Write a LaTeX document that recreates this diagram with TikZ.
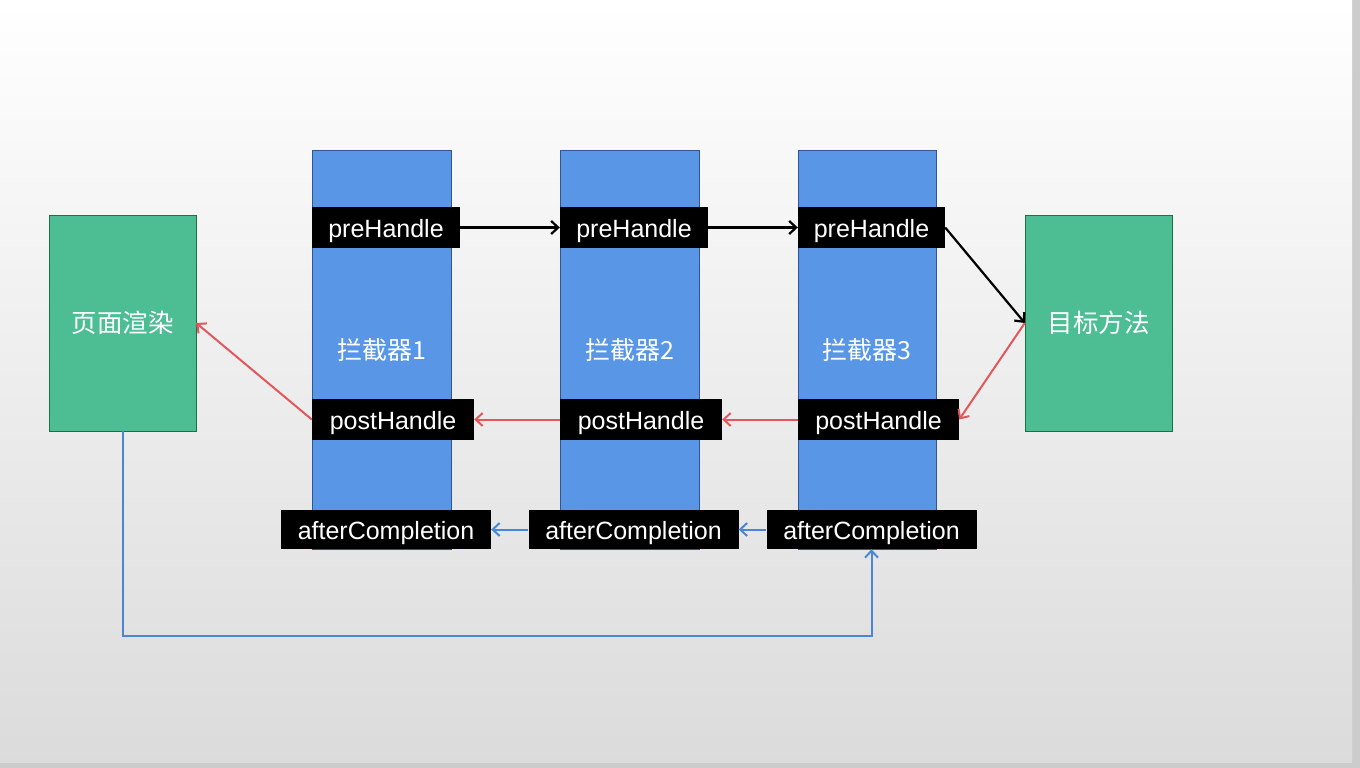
\documentclass[tikz,border=0pt]{standalone}
\usepackage{fontspec}
\setmainfont{Liberation Sans}
\newfontfamily\cjk{Noto Sans CJK SC}
\usetikzlibrary{arrows.meta}
\definecolor{greenfill}{HTML}{4DBD94}
\definecolor{greenline}{HTML}{1F6E4A}
\definecolor{bluefill}{HTML}{5A96E6}
\definecolor{blueline}{HTML}{2F5597}
\definecolor{redline}{HTML}{E0575C}
\definecolor{bluearrow}{HTML}{4A86D8}

\begin{document}
\begin{tikzpicture}[x=1pt,y=-1pt,
    every node/.style={text=white, inner sep=0pt, font=\fontsize{25}{30}\selectfont},
    pagebox/.style={draw=greenline, fill=greenfill, minimum width=147pt, minimum height=216pt, font=\cjk\fontsize{25.5}{30}\selectfont},
    column/.style={draw=blueline, fill=bluefill, minimum width=139pt, minimum height=399pt, font=\cjk\fontsize{25}{30}\selectfont},
    hook/.style={fill=black, minimum height=41pt, text height=22pt, text depth=3pt},
    prehook/.style={hook, minimum width=148pt},
    posthook/.style={hook, minimum width=162pt},
    afterhook/.style={hook, minimum width=210pt, minimum height=39pt},
    callarrow/.style={black, line width=2.2pt, -{Straight Barb[length=7pt,width=13pt]}},
    backarrow/.style={redline, line width=2pt, -{Straight Barb[length=7pt,width=13pt]}},
    donearrow/.style={bluearrow, line width=2pt, -{Straight Barb[length=7pt,width=13pt]}}]
        % background of the slide
        \useasboundingbox (0,0) rectangle (1360,768);
        \fill[gray!40] (0,0) rectangle (1360,768);
        \shade[top color=white, bottom color=gray!28] (0,0) rectangle (1352,762);
        % page rendering and target method
        \node[pagebox] (render) at (122.5,323) {页面渲染};
        \node[pagebox] (target) at (1098.5,323) {目标方法};
        % interceptors
        \node[column] (col1) at (381.5,350) {拦截器1};
        \node[column] (col2) at (629.5,350) {拦截器2};
        \node[column, minimum width=138pt] (col3) at (867,350) {拦截器3};
        \node[prehook] (pre1) at (386,227.5) {preHandle};
        \node[prehook] (pre2) at (634,227.5) {preHandle};
        \node[prehook, minimum width=147pt] (pre3) at (871.5,227.5) {preHandle};
        \node[posthook] (post1) at (393,419.5) {postHandle};
        \node[posthook] (post2) at (641,419.5) {postHandle};
        \node[posthook, minimum width=161pt] (post3) at (878.5,419.5) {postHandle};
        \node[afterhook] (after1) at (386,529.5) {afterCompletion};
        \node[afterhook] (after2) at (633.5,529.5) {afterCompletion};
        \node[afterhook] (after3) at (871.5,529.5) {afterCompletion};
        \coordinate (corner) at (871.5,636);
        % calls
        \draw[callarrow] (pre1) -- (pre2);
        \draw[callarrow] (pre2) -- (pre3);
        \draw[callarrow] (pre3.east) -- (target.west);
        \draw[backarrow] (target.west) -- (post3.east);
        \draw[backarrow] (post3) -- (post2);
        \draw[backarrow] (post2) -- (post1);
        \draw[backarrow] (post1.west) -- (render.east);
        \draw[donearrow] (render.south) |- (corner) -- (after3.south);
        \draw[donearrow] (after3) -- (after2);
        \draw[donearrow] (after2) -- (after1);
    \end{tikzpicture}
\end{document}
